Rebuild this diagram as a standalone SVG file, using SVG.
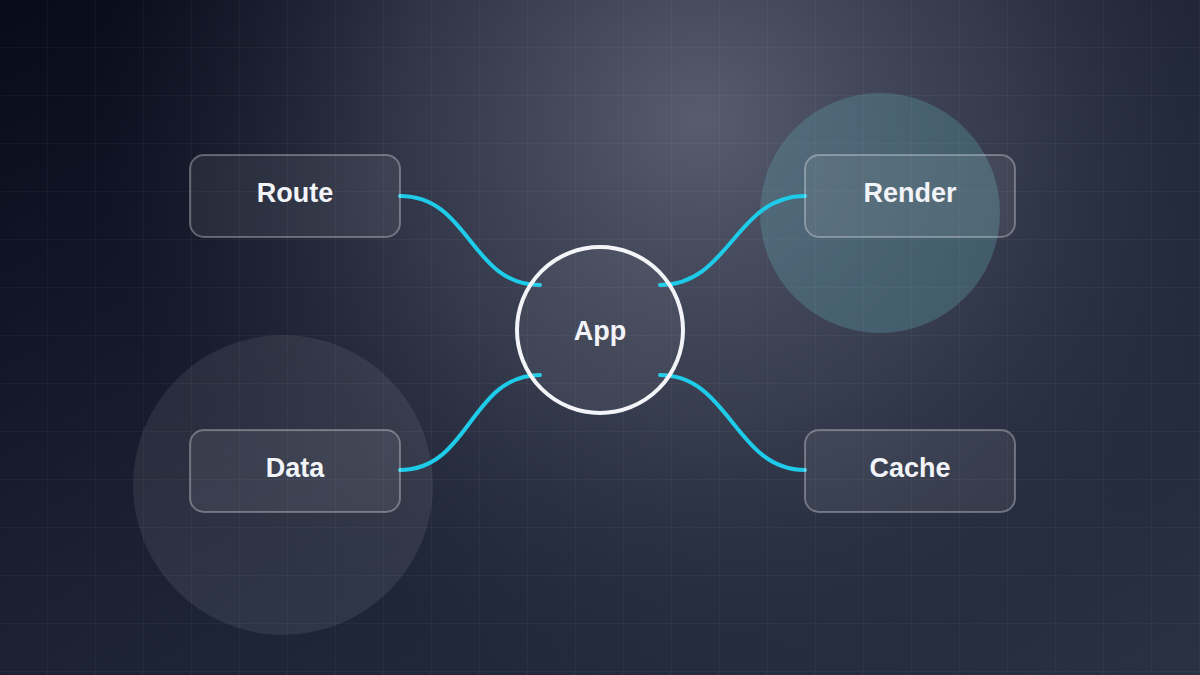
<svg xmlns="http://www.w3.org/2000/svg" width="1200" height="675" viewBox="0 0 1200 675">
<defs>
<linearGradient id="bg" x1="0" y1="0" x2="1" y2="1"><stop offset="0" stop-color="#070b1a"/><stop offset="0.5" stop-color="#1c2234"/><stop offset="1" stop-color="#2a3142"/></linearGradient>
<radialGradient id="glow" cx="700" cy="120" r="600" gradientUnits="userSpaceOnUse"><stop offset="0" stop-color="#63677a" stop-opacity="0.85"/><stop offset="0.5" stop-color="#4a5062" stop-opacity="0.55"/><stop offset="1" stop-color="#2a3042" stop-opacity="0"/></radialGradient>
<pattern id="grid" width="48" height="48" patternUnits="userSpaceOnUse"><path d="M48 0V48M0 48H48" fill="none" stroke="#ffffff" stroke-opacity="0.07" stroke-width="1"/></pattern>
<style>
.box{fill:#ffffff;fill-opacity:0.07;stroke:#ffffff;stroke-opacity:0.3;stroke-width:2}
.lbl{font-family:"Liberation Sans",Arial,sans-serif;font-weight:700;font-size:27px;fill:#f2f4f8;text-anchor:middle;dominant-baseline:central}
.c{fill:none;stroke:#1ecbe8;stroke-width:4;stroke-linecap:round}
</style>
</defs>
<rect width="1200" height="675" fill="url(#bg)"/>
<rect width="1200" height="675" fill="url(#glow)"/>
<rect width="1200" height="675" fill="url(#grid)"/>
<circle cx="880" cy="213" r="120" fill="#5f9aa6" fill-opacity="0.35"/>
<circle cx="283" cy="485" r="150" fill="#ffffff" fill-opacity="0.08"/>
<g id="connectors">
<path class="c" d="M400 196C470 196 470 285 540 285"/>
<path class="c" d="M805 196C735 196 730 285 660 285"/>
<path class="c" d="M400 470C470 470 470 375 540 375"/>
<path class="c" d="M805 470C735 470 730 375 660 375"/>
</g>
<g id="app"><circle cx="600" cy="330" r="83" fill="#ffffff" fill-opacity="0.05" stroke="#f2f4f8" stroke-width="4"/><text class="lbl" x="600" y="331">App</text></g>
<g id="route"><rect class="box" x="190" y="155" width="210" height="82" rx="14"/><text class="lbl" x="295" y="193">Route</text></g>
<g id="render"><rect class="box" x="805" y="155" width="210" height="82" rx="14"/><text class="lbl" x="910" y="193">Render</text></g>
<g id="data"><rect class="box" x="190" y="430" width="210" height="82" rx="14"/><text class="lbl" x="295" y="468">Data</text></g>
<g id="cache"><rect class="box" x="805" y="430" width="210" height="82" rx="14"/><text class="lbl" x="910" y="468">Cache</text></g>
</svg>
